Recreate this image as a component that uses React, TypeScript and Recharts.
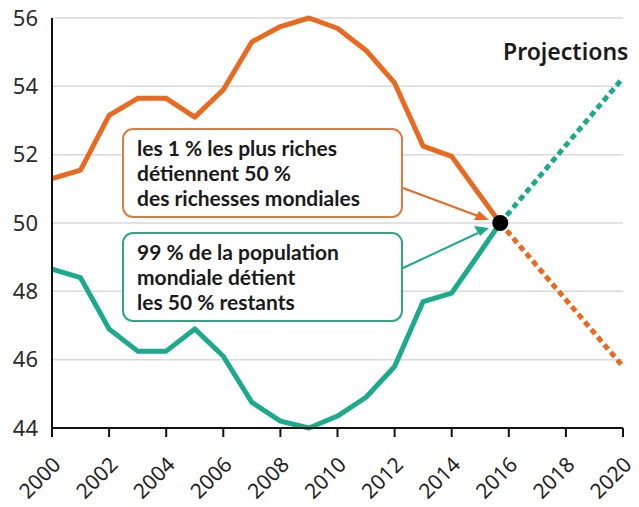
import React from 'react';
import { LineChart, Line, XAxis, YAxis, CartesianGrid, ReferenceDot } from 'recharts';

const years = [2000, 2001, 2002, 2003, 2004, 2005, 2006, 2007, 2008, 2009, 2010, 2011, 2012, 2013, 2014, 2015, 2015.7];
const richest = [51.3, 51.55, 53.15, 53.65, 53.65, 53.1, 53.9, 55.3, 55.75, 56.0, 55.7, 55.05, 54.1, 52.25, 51.95, 50.8, 50];
const rest = [48.65, 48.4, 46.9, 46.25, 46.25, 46.9, 46.1, 44.75, 44.2, 44.0, 44.35, 44.9, 45.8, 47.7, 47.95, 49.15, 50];

const projYears = [2015.7, 2020];
const richestProj = [50, 45.8];
const restProj = [50, 54.25];

const xTicks = [2000, 2002, 2004, 2006, 2008, 2010, 2012, 2014, 2016, 2018, 2020];
const yTicks = [44, 46, 48, 50, 52, 54, 56];

const ORANGE = '#E8691F';
const TEAL = '#1DAA8C';

const histData = years.map((year, i) => ({ year, richest: richest[i], rest: rest[i] }));
const projData = projYears.map((year, i) => ({ year, richest: richestProj[i], rest: restProj[i] }));

const FONT = '"Noto Sans", "Open Sans", sans-serif';

const XTick = (props: any) => {
  const { x, y, payload } = props;
  return (
    <text
      x={x + 10}
      y={y + 27}
      transform={`rotate(-45, ${x + 10}, ${y + 27})`}
      textAnchor="end"
      fontSize={21}
      fill="#222"
      fontFamily={FONT}
    >
      {payload.value}
    </text>
  );
};

const boxStyle = (color: string, top: number): React.CSSProperties => ({
  position: 'absolute',
  left: 122,
  top,
  width: 281,
  height: 90,
  boxSizing: 'border-box',
  border: `2px solid ${color}`,
  borderRadius: 11,
  background: '#fff',
  padding: '5px 0 0 13px',
  fontFamily: 'Lato, sans-serif',
  fontSize: 21,
  fontWeight: 700,
  lineHeight: '25.2px',
  color: '#1a1a1a',
  whiteSpace: 'nowrap',
});

export default function App() {
  return (
    <div style={{ position: 'absolute', left: 0, top: 0, width: 639, height: 507, background: '#fff' }}>
      <LineChart width={639} height={507} margin={{ top: 18, right: 16, left: 7, bottom: 0 }}>
        <CartesianGrid horizontal vertical={false} stroke="#d9d9d9" strokeWidth={1.5} />
        <XAxis
          dataKey="year"
          type="number"
          domain={[2000, 2020]}
          ticks={xTicks}
          allowDuplicatedCategory={false}
          axisLine={{ stroke: '#111', strokeWidth: 2 }}
          tickLine={{ stroke: '#111', strokeWidth: 2 }}
          tickSize={9}
          height={79}
          tick={<XTick />}
          interval={0}
        />
        <YAxis
          type="number"
          domain={[44, 56]}
          ticks={yTicks}
          width={45}
          axisLine={{ stroke: '#111', strokeWidth: 2 }}
          tickLine={false}
          tickSize={8}
          tickMargin={6}
          tick={{ fontSize: 22, fill: '#2a2a2a', fontFamily: FONT }}
          interval={0}
        />
        <Line data={histData} dataKey="richest" stroke={ORANGE} strokeWidth={5} dot={false} isAnimationActive={false} strokeLinejoin="round" />
        <Line data={histData} dataKey="rest" stroke={TEAL} strokeWidth={5} dot={false} isAnimationActive={false} strokeLinejoin="round" />
        <Line data={projData} dataKey="richest" stroke={ORANGE} strokeWidth={5} strokeDasharray="6 4" dot={false} isAnimationActive={false} />
        <Line data={projData} dataKey="rest" stroke={TEAL} strokeWidth={5} strokeDasharray="6 4" dot={false} isAnimationActive={false} />
        <ReferenceDot x={2015.7} y={50} r={8} fill="#000" stroke="none" />
      </LineChart>

      <svg width={639} height={507} style={{ position: 'absolute', left: 0, top: 0, pointerEvents: 'none' }}>
        <line x1={403} y1={188} x2={478} y2={216} stroke={ORANGE} strokeWidth={2} />
        <path d="M489,220 L474,220 L479,211 z" fill={ORANGE} />
        <line x1={403} y1={268} x2={478} y2={233} stroke={TEAL} strokeWidth={2} />
        <path d="M489,228 L474,226 L480,236 z" fill={TEAL} />
        <text x={503} y={60} fontFamily={FONT} fontSize={23} fontWeight={600} fill="#1a1a1a">Projections</text>
      </svg>

      <div style={boxStyle('#E07B3C', 128)}>
        les 1 % les plus riches<br />détiennent 50 %<br />des richesses mondiales
      </div>
      <div style={boxStyle('#2BA68B', 232)}>
        99 % de la population<br />mondiale détient<br />les 50 % restants
      </div>
    </div>
  );
}
